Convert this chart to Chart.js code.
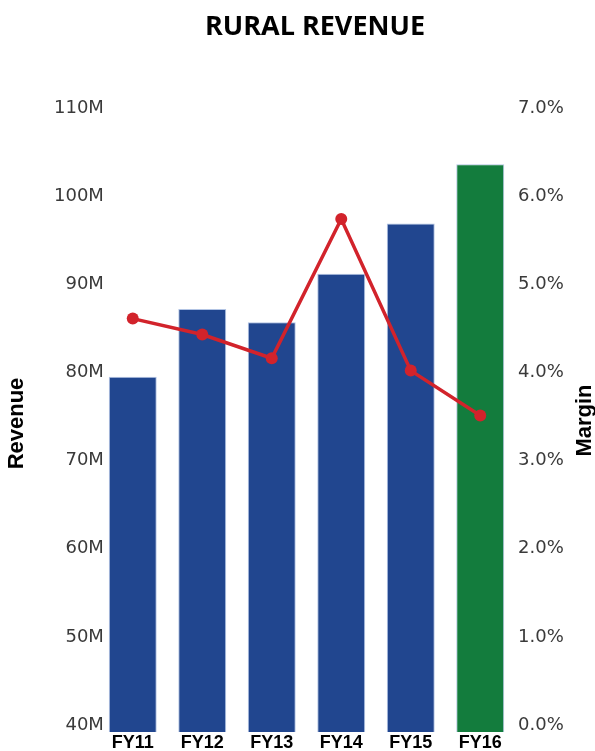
<!DOCTYPE html>
<html>
<head>
<meta charset="utf-8">
<title>Rural Revenue</title>
<script src="https://cdn.jsdelivr.net/npm/chart.js@4/dist/chart.umd.min.js"></script>
<style>
  html, body { margin: 0; padding: 0; background: #fff; }
  canvas { display: block; }
</style>
</head>
<body>
<canvas id="chart" width="595" height="751"></canvas>
<script>
// fiscal years, revenue in millions, margin in percent
var years   = ['FY11', 'FY12', 'FY13', 'FY14', 'FY15', 'FY16'];
var revenue = [80.3, 88.0, 86.5, 92.0, 97.7, 104.4];
var margin  = [4.69, 4.51, 4.24, 5.82, 4.10, 3.59];

var blue  = '#21468F';
var green = '#137C3D';
var red   = '#D2232B';

var barColors = years.map(function(y, i) {
    return i === years.length - 1 ? green : blue;
});

// heading and the right-hand axis title (reads bottom to top, like the left one)
var headingPlugin = {
    id: 'heading',
    afterDraw: function(chart) {
        var ctx = chart.ctx;
        var area = chart.chartArea;
        ctx.save();
        ctx.font = 'bold 27px "Open Sans"';
        ctx.fillStyle = '#000';
        ctx.textAlign = 'center';
        ctx.textBaseline = 'middle';
        ctx.fillText('RURAL REVENUE', 315, 27);

        ctx.font = 'bold 22px "Liberation Sans"';
        ctx.translate(585, (area.top + area.bottom) / 2 - 3);
        ctx.rotate(-Math.PI / 2);
        ctx.fillText('Margin', 0, 0);
        ctx.restore();
    }
};

var tickFont  = { family: 'DejaVu Sans', size: 18 };
var titleFont = { family: 'Liberation Sans', size: 22, weight: 'bold', lineHeight: 1 };

new Chart(document.getElementById('chart').getContext('2d'), {
    data: {
        labels: years,
        datasets: [{
            type: 'line',
            label: 'Margin',
            data: margin,
            yAxisID: 'y1',
            borderColor: red,
            backgroundColor: red,
            borderWidth: 3.5,
            pointRadius: 6,
            pointBackgroundColor: red,
            pointBorderWidth: 0,
            tension: 0,
            order: 0
        }, {
            type: 'bar',
            label: 'Revenue',
            data: revenue,
            yAxisID: 'y',
            backgroundColor: barColors,
            borderColor: 'rgba(170,190,225,0.9)',
            borderWidth: 1,
            categoryPercentage: 0.69,
            barPercentage: 1.0,
            order: 1
        }]
    },
    options: {
        responsive: false,
        animation: false,
        layout: { padding: { top: 115, left: 0, right: 0, bottom: 0 } },
        plugins: {
            legend: { display: false },
            tooltip: { enabled: false }
        },
        scales: {
            x: {
                grid: { display: false, drawTicks: false },
                border: { display: false },
                ticks: {
                    font: { family: 'Liberation Sans', size: 18, weight: 'bold' },
                    color: '#000',
                    padding: 0
                },
                afterFit: function(s) { s.height = 19; }
            },
            y: {
                position: 'left',
                min: 40, max: 110,
                grid: { display: false, drawTicks: false },
                border: { display: false },
                ticks: {
                    stepSize: 10,
                    font: tickFont,
                    color: '#3a3a3a',
                    // mirrored + far alignment keeps labels right-aligned without clipping
                    mirror: true,
                    crossAlign: 'far',
                    padding: -44,
                    labelOffset: -7,
                    callback: function(v) { return v + 'M'; }
                },
                title: {
                    display: true,
                    text: 'Revenue',
                    font: titleFont,
                    color: '#000',
                    padding: { top: 6, bottom: 0 }
                },
                afterFit: function(s) { s.width = 98; }
            },
            y1: {
                position: 'right',
                min: 0, max: 7,
                grid: { display: false, drawTicks: false },
                border: { display: false },
                ticks: {
                    stepSize: 1,
                    font: tickFont,
                    color: '#3a3a3a',
                    padding: 3,
                    labelOffset: -7,
                    callback: function(v) { return v.toFixed(1) + '%'; }
                },
                afterFit: function(s) { s.width = 80; }
            }
        }
    },
    plugins: [headingPlugin]
});
</script>
</body>
</html>
